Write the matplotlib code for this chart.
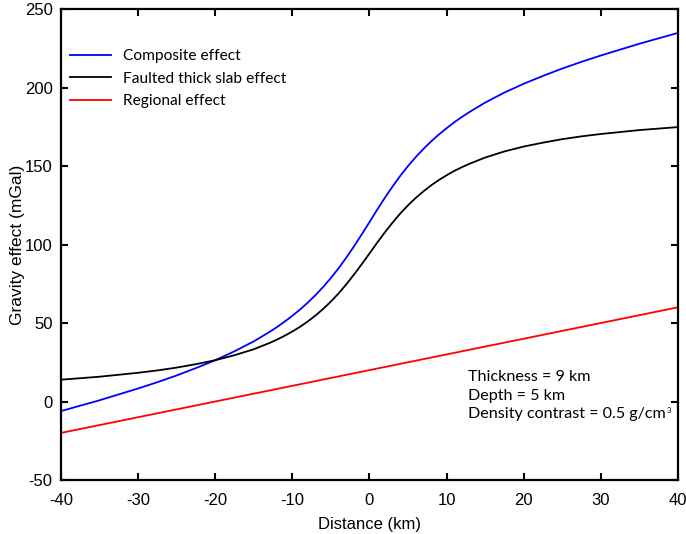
import matplotlib
matplotlib.use("Agg")
import matplotlib.pyplot as plt

# distance along profile (km)
distance = [-40, -35, -30, -27.5, -25, -22.5, -20, -17.5, -15, -13, -12, -11, -10, -9,
            -8, -7, -6, -5, -4, -3, -2, -1, 0, 1, 2, 3, 4, 5, 6, 7, 8, 9, 10, 11, 12, 13,
            15, 17.5, 20, 22.5, 25, 27.5, 30, 35, 40]

# faulted thick slab effect (mGal)
slab = [13.9, 15.8, 18.3, 19.8, 21.6, 23.8, 26.3, 29.5, 33.3, 37.2, 39.4, 41.9, 44.6,
        47.6, 51.0, 54.8, 59.0, 63.7, 68.9, 74.7, 80.9, 87.5, 94.3, 101.2, 107.8, 114.0,
        119.8, 125.0, 129.7, 133.9, 137.7, 141.1, 144.1, 146.9, 149.3, 151.5, 155.4,
        159.3, 162.4, 164.9, 167.1, 168.9, 170.4, 172.9, 174.8]

# composite effect (mGal)
composite = [-6.1, 0.8, 8.3, 12.3, 16.6, 21.3, 26.3, 32.0, 38.3, 44.2, 47.4, 50.9, 54.6,
             58.6, 63.0, 67.8, 73.0, 78.7, 84.9, 91.7, 98.9, 106.5, 114.3, 122.2, 129.8,
             137.0, 143.8, 150.0, 155.7, 160.9, 165.7, 170.1, 174.1, 177.9, 181.3, 184.5,
             190.4, 196.8, 202.4, 207.4, 212.1, 216.4, 220.4, 227.9, 234.8]

# regional effect (mGal)
regional_x = [-40, 40]
regional = [-20, 60]

x_ticks = [-40, -30, -20, -10, 0, 10, 20, 30, 40]
y_ticks = [-50, 0, 50, 100, 150, 200, 250]

notes = ['Thickness = 9 km', 'Depth = 5 km', 'Density contrast = 0.5 g/cm']

plt.rcParams['font.family'] = ['Liberation Sans', 'DejaVu Sans']
plt.rcParams['axes.unicode_minus'] = False

fig = plt.figure(figsize=(6.86, 5.34), dpi=100)
ax = fig.add_axes([0.0889, 0.1011, 0.8994, 0.882])

ax.plot(distance, composite, color='#0000ff', lw=1.3, label='Composite effect')
ax.plot(distance, slab, color='black', lw=1.3, label='Faulted thick slab effect')
ax.plot(regional_x, regional, color='#ff0000', lw=1.3, label='Regional effect')

ax.set_xlim(-40, 40)
ax.set_ylim(-50, 250)
ax.set_xticks(x_ticks)
ax.set_yticks(y_ticks)
ax.tick_params(direction='in', length=5, width=1.5, labelsize=12, top=True, right=True,
               labeltop=False, labelright=False)
ax.tick_params(axis='x', pad=9)
ax.tick_params(axis='y', pad=6)
for s in ax.spines.values():
    s.set_linewidth(1.6)

ax.set_xlabel('Distance (km)', fontsize=12, labelpad=7)
ax.set_ylabel('Gravity effect (mGal)', fontsize=12.5, labelpad=0)

leg = ax.legend(loc='upper left', bbox_to_anchor=(0.0, 0.935), frameon=False,
                prop={'family': 'Lato', 'size': 11.2}, handlelength=2.6,
                handletextpad=0.8, labelspacing=0.55, borderaxespad=0.2)

# parameter notes, one line each
t = None
for i, line in enumerate(notes):
    t = ax.text(0.659, 0.2187 - i * 0.0395, line, transform=ax.transAxes, family='Lato',
                fontsize=11.6, va='center', ha='left')
# tiny superscript after cm
ax.annotate('3', xy=(1, 0.8), xycoords=t, xytext=(1, 0), textcoords='offset points',
            family='Lato', fontsize=5.5, va='center', ha='left')

fig.savefig('out.png', dpi=100)
